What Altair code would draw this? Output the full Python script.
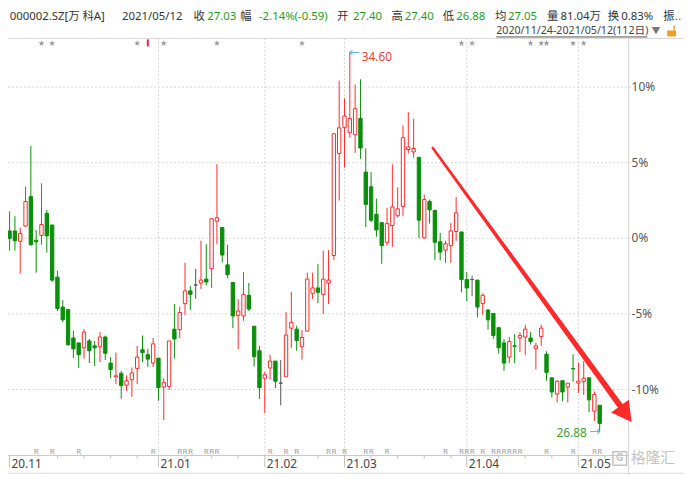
import altair as alt
import pandas as pd

# ------------------------------------------------------------------ data
OPEN = [30.95, 30.95, 30.74, 31.05, 31.65, 30.76, 30.86, 31.31, 31.07, 30.01,
        29.40, 29.35, 28.77, 28.67, 28.57, 28.71, 28.61, 28.59, 28.79, 28.26,
        27.98, 28.05, 27.81, 27.92, 28.15, 28.53, 28.43, 28.26, 28.36, 27.77,
        27.78, 28.95, 28.94, 29.47, 29.73, 29.85, 29.89, 29.97, 30.18, 31.15,
        31.02, 30.26, 29.90, 29.23, 29.22, 29.64, 29.01, 28.51, 27.95, 28.16,
        28.30, 27.85, 27.98, 28.97, 28.95, 28.59, 28.91, 29.68, 29.79, 29.66,
        29.89, 30.45, 32.53, 33.06, 32.95, 32.91, 33.24, 32.15, 31.85, 31.29,
        31.12, 30.72, 31.06, 31.26, 31.45, 32.61, 32.56, 32.45, 30.81, 31.55,
        31.37, 30.73, 30.56, 30.65, 30.94, 30.93, 29.96, 29.96, 29.95, 29.47,
        29.34, 29.27, 28.98, 28.67, 28.38, 28.61, 28.77, 28.79, 28.77, 28.55,
        28.80, 28.44, 27.96, 27.63, 27.90, 27.77, 28.15, 27.85, 27.88, 27.96,
        27.28, 27.40]
HIGH = [31.35, 31.25, 31.02, 31.85, 32.68, 30.97, 31.92, 31.38, 31.08, 30.14,
        29.54, 29.35, 28.92, 28.67, 28.95, 28.75, 28.71, 28.89, 28.82, 28.38,
        28.47, 28.10, 28.01, 28.17, 28.61, 28.82, 28.55, 28.77, 28.36, 27.95,
        28.71, 29.46, 29.41, 30.30, 29.83, 30.18, 30.75, 30.68, 31.20, 32.31,
        31.02, 30.67, 29.90, 29.56, 30.11, 29.89, 29.01, 28.61, 28.08, 28.43,
        28.30, 28.32, 29.30, 29.71, 29.02, 28.93, 30.10, 30.10, 30.28, 30.55,
        30.56, 32.93, 34.01, 33.65, 34.60, 33.93, 34.04, 32.63, 32.15, 31.61,
        31.12, 31.42, 32.31, 31.84, 33.10, 33.37, 33.23, 32.45, 31.69, 31.59,
        31.37, 30.91, 30.75, 31.11, 31.64, 30.93, 30.11, 30.04, 29.95, 29.68,
        29.36, 29.27, 28.98, 28.75, 28.79, 28.85, 28.89, 29.04, 28.89, 28.67,
        29.04, 28.50, 27.96, 27.91, 27.90, 27.85, 28.44, 28.27, 28.30, 27.96,
        27.68, 27.40]
LOW = [30.55, 30.55, 30.08, 31.03, 30.65, 30.10, 30.67, 30.51, 29.91, 29.32,
       29.09, 28.62, 28.36, 28.16, 28.35, 28.26, 28.20, 28.28, 28.32, 27.95,
       27.83, 27.53, 27.69, 27.57, 27.83, 28.28, 28.18, 28.18, 27.49, 27.10,
       27.71, 28.35, 28.77, 29.24, 29.34, 29.57, 29.77, 29.84, 29.79, 30.68,
       30.31, 29.99, 28.97, 28.54, 29.12, 29.32, 28.19, 27.53, 27.24, 27.93,
       27.75, 27.40, 27.98, 28.57, 28.51, 28.33, 28.91, 29.56, 29.48, 29.26,
       29.46, 30.36, 31.57, 32.24, 32.85, 32.54, 32.42, 31.03, 31.13, 30.83,
       30.28, 30.65, 30.62, 31.23, 31.25, 32.53, 32.44, 30.80, 30.79, 31.10,
       30.36, 30.35, 30.30, 30.30, 30.75, 29.70, 29.52, 29.62, 29.19, 29.24,
       28.94, 28.75, 28.45, 28.10, 28.26, 28.26, 28.48, 28.42, 28.64, 28.13,
       28.61, 27.90, 27.56, 27.46, 27.48, 27.46, 27.88, 27.65, 27.61, 27.26,
       27.08, 26.88]
CLOSE = [30.80, 30.75, 30.90, 31.55, 30.67, 30.73, 31.08, 30.85, 29.95, 29.37,
         29.14, 28.63, 28.55, 28.43, 28.89, 28.51, 28.57, 28.79, 28.46, 28.13,
         28.00, 27.80, 27.90, 28.06, 28.38, 28.47, 28.34, 28.65, 27.76, 27.86,
         28.71, 28.75, 29.29, 29.73, 29.66, 29.85, 29.95, 29.91, 31.20, 31.22,
         30.46, 30.06, 29.22, 29.32, 29.66, 29.36, 28.39, 27.76, 28.02, 28.30,
         27.89, 27.85, 28.83, 29.09, 28.72, 28.78, 29.97, 29.79, 29.70, 29.97,
         29.95, 32.93, 33.05, 33.29, 33.24, 33.44, 32.64, 31.49, 31.17, 30.97,
         30.65, 31.10, 31.44, 31.40, 32.85, 32.66, 32.63, 31.17, 31.59, 31.38,
         30.72, 30.52, 30.69, 30.95, 31.32, 29.96, 29.79, 29.96, 29.40, 29.64,
         29.14, 28.82, 28.57, 28.26, 28.70, 28.60, 28.82, 28.95, 28.70, 28.61,
         28.97, 28.07, 27.67, 27.89, 27.67, 27.85, 28.14, 27.89, 27.95, 27.51,
         27.62, 27.03]
BASE = CLOSE[0]          # 0% reference price

MONTH_LABELS = ["20.11", "21.01", "21.02", "21.03", "21.04", "21.05"]
MONTH_IDX = [0, 28, 48, 63, 86, 107]
GRID_IDX = [28, 48, 63, 86, 107]
WEEK_IDX = [9, 14, 19, 24, 33, 38, 43, 53, 58, 68, 73, 78, 83, 92, 97, 102, 112]
STAR_IDX = [6, 8, 24, 29, 39, 55, 85, 87, 98, 100, 101, 106, 108]
FLAG_IDX = [26]
R_IDX = [5, 8, 13, 27, 32, 33, 34, 37, 38, 39, 49, 52, 54, 60, 61, 63, 67, 68,
         71, 82, 85, 86, 87, 89, 91, 92, 93, 94, 95, 96, 101, 106, 110, 111]
Y_TICKS = [-10, -5, 0, 5, 10]
Y_LABELS = ["-10%", "-5%", "0%", "5%", "10%"]

# trend arrow: tail -> base of head, and the tip of the head
TREND_IDX = [79.6, 115.3]
TREND_PCT = [5.98, -11.29]
TREND_W = [2.5, 6.0]
TIP_IDX = [117.0]
TIP_PCT = [-12.15]

HEADER = [
    ("000002.SZ[万 科A]", 1.7, "#333333"),
    ("2021/05/12", 115.3, "#333333"),
    ("收", 187.7, "#333333"), ("27.03", 201.5, "#1f9a1f"),
    ("幅", 235.1, "#333333"), ("-2.14%(-0.59)", 253.9, "#1f9a1f"),
    ("开", 333.0, "#333333"), ("27.40", 349.1, "#1f9a1f"),
    ("高", 388.0, "#333333"), ("27.40", 401.5, "#1f9a1f"),
    ("低", 440.0, "#333333"), ("26.88", 453.5, "#1f9a1f"),
    ("均", 492.7, "#333333"), ("27.05", 506.0, "#1f9a1f"),
    ("量", 545.4, "#333333"), ("81.04万", 559.0, "#333333"),
    ("换", 606.9, "#333333"), ("0.83%", 620.5, "#333333"),
    ("振", 663.0, "#333333"), ("..", 675.0, "#e02020"),
]
RANGE_TEXT = "2020/11/24-2021/05/12(112日)"

# ------------------------------------------------------------------ styling
W, H = 628, 422
PAD = {"left": 0, "top": 28, "right": 56, "bottom": 20}
FONT = "Noto Sans, Noto Sans CJK SC, sans-serif"
RED, GREEN, GRAY = "#ff2a2a", "#0a8f0a", "#555555"
BLUE = "#4aa3d6"
GRIDC = "#d6d6d6"

n = len(OPEN)
df = pd.DataFrame({"idx": list(range(n)), "o": OPEN, "h": HIGH, "l": LOW, "c": CLOSE})
to_pct = lambda v: (v / BASE - 1) * 100
for a, b in [("po", "o"), ("ph", "h"), ("pl", "l"), ("pc", "c")]:
    df[a] = to_pct(df[b])
df["pt"] = df[["po", "pc"]].max(axis=1)
df["pb"] = df[["po", "pc"]].min(axis=1)
df["dir"] = ["up" if c > o else ("down" if c < o else "flat") for o, c in zip(OPEN, CLOSE)]

XS = alt.Scale(domain=[-0.3, 116.45], nice=False, zero=False, padding=0)
YS = alt.Scale(domain=[-14.36, 13.22], nice=False, zero=False, padding=0)
CS = alt.Scale(domain=["up", "down", "flat"], range=[RED, GREEN, GRAY])
FS = alt.Scale(domain=["up", "down", "flat"], range=["#ffffff", GREEN, GRAY])


def xq(f="idx"):
    return alt.X(f"{f}:Q", scale=XS, axis=None)


def yq(f="pct"):
    return alt.Y(f"{f}:Q", scale=YS, axis=None)


one = pd.DataFrame({"a": [0]})
layers = []

# horizontal percent grid + right-hand labels
ydf = pd.DataFrame({"pct": Y_TICKS, "t": Y_LABELS})
layers.append(alt.Chart(ydf).mark_rule(strokeDash=[2, 2], color=GRIDC, strokeWidth=1).encode(
    y=yq(), x=alt.value(0), x2=alt.value(W + 3)))
layers.append(alt.Chart(ydf).mark_text(align="left", baseline="middle", fontSize=12,
                                       color="#555555", font=FONT).encode(
    y=yq(), x=alt.value(W + 3), text="t:N"))

# vertical month grid lines
layers.append(alt.Chart(pd.DataFrame({"idx": GRID_IDX})).mark_rule(
    strokeDash=[2, 2], color=GRIDC, strokeWidth=1).encode(
    x=xq(), y=alt.value(0), y2=alt.value(H)))

# wicks
layers.append(alt.Chart(df).mark_rule(strokeWidth=1).encode(
    x=xq(), y=yq("pl"), y2="ph:Q",
    color=alt.Color("dir:N", scale=CS, legend=None)))

# bodies
layers.append(alt.Chart(df).mark_bar(size=3.4, strokeWidth=1).encode(
    x=xq(), y=yq("pb"), y2="pt:Q",
    stroke=alt.Stroke("dir:N", scale=CS, legend=None),
    fill=alt.Fill("dir:N", scale=FS, legend=None)))

# x axis drawn by hand
layers.append(alt.Chart(one).mark_rule(color="#c8c8c8").encode(
    x=alt.value(0), x2=alt.value(W), y=alt.value(H)))
layers.append(alt.Chart(pd.DataFrame({"idx": MONTH_IDX})).mark_rule(color="#c0c0c0").encode(
    x=xq(), y=alt.value(H), y2=alt.value(H + 12)))
layers.append(alt.Chart(pd.DataFrame({"idx": WEEK_IDX})).mark_rule(color="#c0c0c0").encode(
    x=xq(), y=alt.value(H), y2=alt.value(H + 3)))
layers.append(alt.Chart(pd.DataFrame({"idx": MONTH_IDX, "t": MONTH_LABELS})).mark_text(
    align="left", baseline="middle", dx=2, fontSize=12, color="#444444", font=FONT).encode(
    x=xq(), y=alt.value(H + 9), text="t:N"))

# frame lines
layers.append(alt.Chart(one).mark_rule(color="#d8d8d8").encode(
    x=alt.value(0), x2=alt.value(W + 56), y=alt.value(0)))
layers.append(alt.Chart(one).mark_rule(color="#d0d0d0").encode(
    x=alt.value(W), y=alt.value(0), y2=alt.value(H + 20)))
layers.append(alt.Chart(one).mark_rule(color="#d8d8d8").encode(
    x=alt.value(0), x2=alt.value(W + 56), y=alt.value(H + 18)))

# markers: stars, flag, R
STAR = ("M0,-1L0.235,-0.324L0.951,-0.309L0.38,0.124L0.588,0.809L0,0.4L-0.588,0.809"
        "L-0.38,0.124L-0.951,-0.309L-0.235,-0.324Z")
layers.append(alt.Chart(pd.DataFrame({"idx": STAR_IDX})).mark_point(
    shape=STAR, filled=True, size=40, color="#9a9a9a", opacity=1).encode(
    x=xq(), y=alt.value(5)))
layers.append(alt.Chart(pd.DataFrame({"idx": FLAG_IDX})).mark_rule(
    color="#e8204a", strokeWidth=2).encode(x=xq(), y=alt.value(1), y2=alt.value(8)))
layers.append(alt.Chart(pd.DataFrame({"idx": R_IDX})).mark_text(
    text="R", fontSize=8, color="#9a9a9a", font=FONT).encode(x=xq(), y=alt.value(418)))

# big red trend arrow (tapered shaft + head whose tip sits on its anchor point)
layers.append(alt.Chart(pd.DataFrame({"idx": TREND_IDX, "pct": TREND_PCT, "w": TREND_W,
                                      "k": [0, 1]})).mark_trail(color=RED, opacity=1).encode(
    x=xq(), y=yq(), size=alt.Size("w:Q", scale=None, legend=None), order="k:Q"))
HEAD = "M0,0L-0.55,1L0.55,1Z"
layers.append(alt.Chart(pd.DataFrame({"idx": TIP_IDX, "pct": TIP_PCT})).mark_point(
    shape=HEAD, angle=144, size=1600, filled=True, color=RED, opacity=1, strokeWidth=0).encode(
    x=xq(), y=yq()))

# high / low annotations
hi = max(HIGH)
lo = min(LOW)
hi_df = pd.DataFrame({"idx": [HIGH.index(hi)], "pct": [to_pct(hi)], "t": [f"{hi:.2f}"]})
lo_df = pd.DataFrame({"idx": [LOW.index(lo)], "pct": [to_pct(lo)], "t": [f"{lo:.2f}"]})
layers.append(alt.Chart(hi_df).mark_text(text="←", align="left", baseline="middle", dx=-1, dy=2,
                                         fontSize=11, color=BLUE, font=FONT).encode(x=xq(), y=yq()))
layers.append(alt.Chart(hi_df).mark_text(align="left", baseline="middle", dx=12, dy=5,
                                         fontSize=12, color="#e8403a", font=FONT).encode(
    x=xq(), y=yq(), text="t:N"))
layers.append(alt.Chart(lo_df).mark_text(text="→", align="right", baseline="middle", dx=1, dy=2,
                                         fontSize=11, color=BLUE, font=FONT).encode(x=xq(), y=yq()))
layers.append(alt.Chart(lo_df).mark_text(align="right", baseline="middle", dx=-13, dy=2,
                                         fontSize=12, color="#3d9b3d", font=FONT).encode(
    x=xq(), y=yq(), text="t:N"))

# header
for t, hx, col in HEADER:
    layers.append(alt.Chart(one).mark_text(text=t, align="left", baseline="middle", fontSize=11.5,
                                           color=col, font=FONT).encode(
        x=alt.value(hx), y=alt.value(-21.5)))
layers.append(alt.Chart(one).mark_text(text=RANGE_TEXT, align="left", baseline="middle",
                                       fontSize=10.8, color="#444444", font=FONT).encode(
    x=alt.value(494), y=alt.value(-7.5)))
layers.append(alt.Chart(one).mark_rule(color="#555555").encode(
    x=alt.value(494), x2=alt.value(647), y=alt.value(-1.5)))
layers.append(alt.Chart(one).mark_text(text="▼", align="left", baseline="middle", fontSize=9,
                                       color="#777777", font=FONT).encode(
    x=alt.value(651), y=alt.value(-7.5)))
layers.append(alt.Chart(one).mark_rect(color="#f0a020").encode(
    x=alt.value(667), x2=alt.value(676), y=alt.value(-8), y2=alt.value(-2)))
layers.append(alt.Chart(one).mark_rule(color="#f0a020", strokeWidth=1.5).encode(
    x=alt.value(674), y=alt.value(-13), y2=alt.value(-8)))

# watermark
layers.append(alt.Chart(one).mark_point(shape="square", size=190, color="#c4c4c4",
                                        strokeWidth=1.5, opacity=1).encode(
    x=alt.value(619), y=alt.value(425)))
layers.append(alt.Chart(one).mark_text(text="G", fontSize=11, fontWeight="bold", color="#c4c4c4",
                                       font=FONT, baseline="middle").encode(
    x=alt.value(619), y=alt.value(425)))
layers.append(alt.Chart(one).mark_text(text="格隆汇", align="left", baseline="middle", fontSize=15,
                                       color="#c4c4c4", font=FONT).encode(
    x=alt.value(630), y=alt.value(425)))

chart = alt.layer(*layers).properties(
    width=W, height=H, padding=PAD,
    autosize=alt.AutoSizeParams(type="none"),
    background="#ffffff",
).configure_view(stroke=None)

chart.save("out.html", embed_options={"renderer": "svg", "actions": False})
